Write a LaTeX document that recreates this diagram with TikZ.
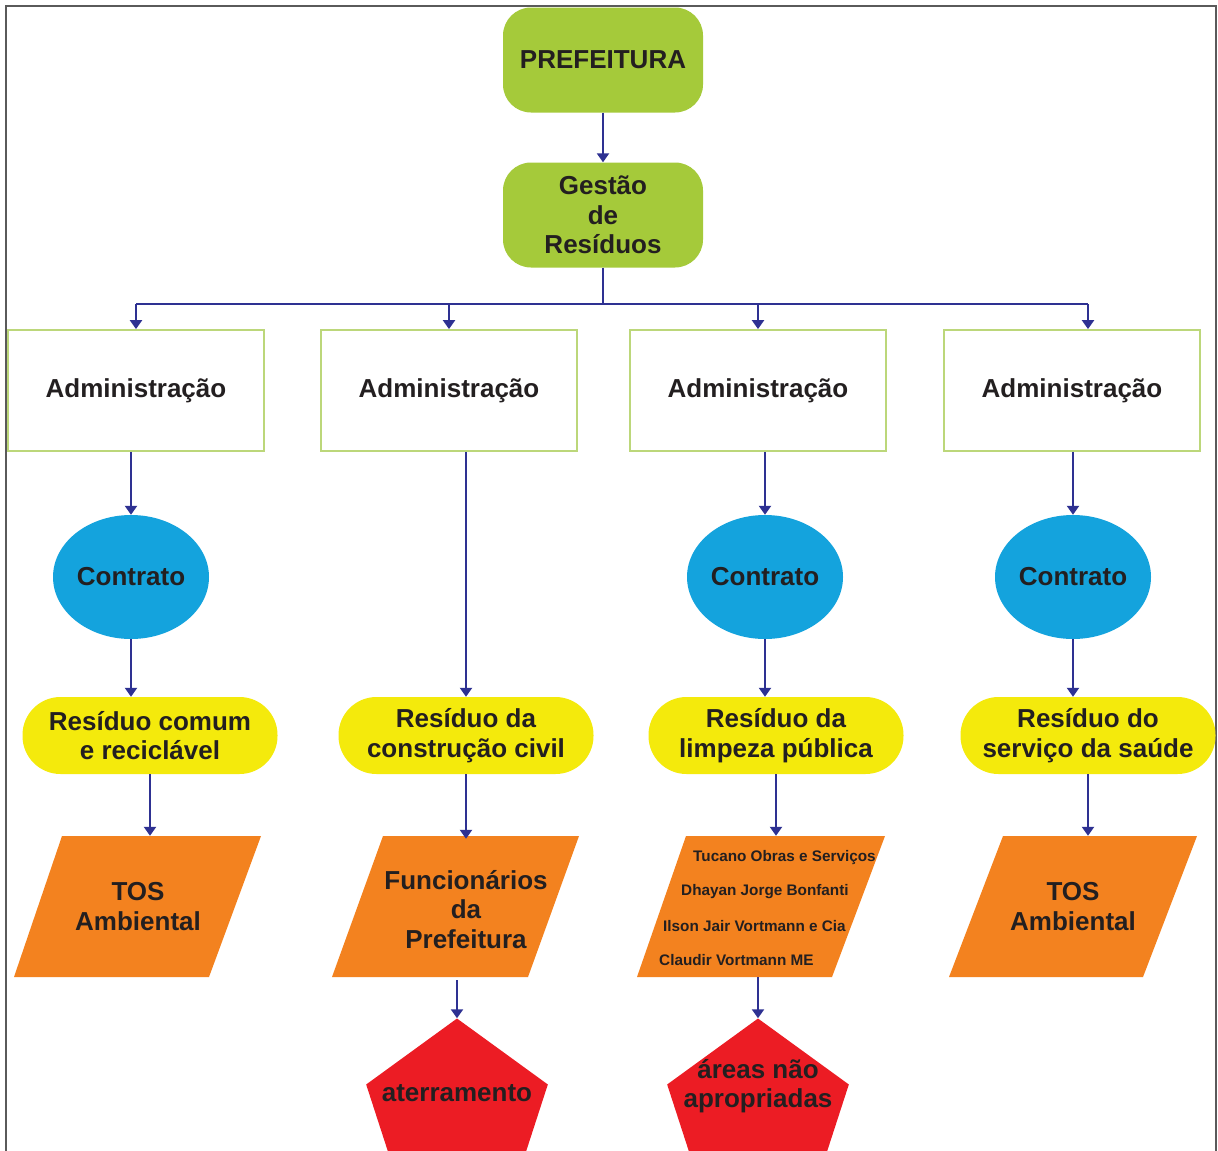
\documentclass[tikz,border=0pt]{standalone}
\usepackage{fontspec}
\setmainfont{Liberation Sans}
\usetikzlibrary{shapes.geometric,arrows.meta}
\definecolor{grn}{HTML}{A5CA3A}
\definecolor{admg}{HTML}{BCD77A}
\definecolor{blu}{HTML}{14A3DD}
\definecolor{yel}{HTML}{F4EA0C}
\definecolor{org}{HTML}{F3821F}
\definecolor{rd}{HTML}{EC1C24}
\definecolor{navy}{HTML}{2E3192}
\definecolor{txtc}{HTML}{231F20}
\definecolor{frm}{HTML}{5A5A5A}
\begin{document}
\begin{tikzpicture}[x=1pt,y=-1pt,
  txt/.style={font=\fontsize{26}{29.5}\selectfont\bfseries, text=txtc, align=center},
  small/.style={font=\fontsize{15.3}{17}\selectfont\bfseries, text=txtc, anchor=west, inner sep=0pt},
  gbox/.style={txt, rectangle, rounded corners=28pt, fill=grn, minimum width=200pt, minimum height=105pt, inner sep=0pt},
  admbox/.style={txt, rectangle, draw=admg, line width=1.8pt, fill=white, minimum width=256pt, minimum height=121pt, inner sep=0pt},
  ellbox/.style={txt, ellipse, fill=blu, minimum width=156pt, minimum height=124pt, inner sep=0pt},
  yelbox/.style={txt, rectangle, rounded corners=38pt, fill=yel, minimum width=255pt, minimum height=77pt, inner sep=0pt},
  parbox/.style={txt, rectangle, minimum width=200pt, minimum height=141pt, inner sep=0pt},
  pentbox/.style={regular polygon, regular polygon sides=5, minimum size=191pt, fill=rd, inner sep=0pt},
  arr/.style={draw=navy, line width=2.2pt, -{Triangle[width=12pt,length=9pt]}},
  ln/.style={draw=navy, line width=2.2pt}]
\useasboundingbox (0,0) rectangle (1218,1151);
\fill[white] (0,0) rectangle (1218,1151);
\clip (0,0) rectangle (1218,1151);
\draw[frm, line width=1.5pt] (6,1160) -- (6,6) -- (1216,6) -- (1216,1160);

% top
\node[gbox] (pref) at (603,60) {PREFEITURA};
\node[gbox] (ges) at (603,215) {Gestão\\de\\Resíduos};
\draw[arr] (pref) -- (ges);

% administration
\node[admbox] (adm1) at (136,390.5) {Administração};
\node[admbox] (adm2) at (449,390.5) {Administração};
\node[admbox] (adm3) at (758,390.5) {Administração};
\node[admbox] (adm4) at (1072,390.5) {Administração};

\coordinate (bus) at (603,304);
\coordinate (t1) at (136,304);
\coordinate (t2) at (449,304);
\coordinate (t3) at (758,304);
\coordinate (t4) at (1088,304);
\draw[ln] (ges.south) -- (bus);
\draw[ln] (t1) -- (t4);
\draw[arr] (t1) -- (t1 |- adm1.north);
\draw[arr] (t2) -- (t2 |- adm2.north);
\draw[arr] (t3) -- (t3 |- adm3.north);
\draw[arr] (t4) -- (t4 |- adm4.north);

% contracts
\node[ellbox] (ell1) at (131,577) {Contrato};
\node[ellbox] (ell3) at (765,577) {Contrato};
\node[ellbox] (ell4) at (1073,577) {Contrato};

% residues
\node[yelbox] (yel1) at (150,735.5) {Resíduo comum\\e reciclável};
\node[yelbox] (yel2) at (466,735.5) {Resíduo da\\construção civil};
\node[yelbox] (yel3) at (776,735.5) {Resíduo da\\limpeza pública};
\node[yelbox] (yel4) at (1088,735.5) {Resíduo do\\serviço da saúde};

\draw[arr] (ell1 |- adm1.south) -- (ell1.north);
\draw[arr] (yel2 |- adm2.south) -- (yel2.north);
\draw[arr] (ell3 |- adm3.south) -- (ell3.north);
\draw[arr] (ell4 |- adm4.south) -- (ell4.north);

\draw[arr] (ell1.south) -- (ell1.south |- yel1.north);
\draw[arr] (ell3.south) -- (ell3.south |- yel3.north);
\draw[arr] (ell4.south) -- (ell4.south |- yel4.north);

% parallelograms
\fill[org] (62,836) -- (261,836) -- (209,977) -- (14,977) -- cycle;
\fill[org] (383,836) -- (579,836) -- (528,977) -- (332,977) -- cycle;
\fill[org] (686,836) -- (885,836) -- (832,977) -- (637,977) -- cycle;
\fill[org] (1003,836) -- (1197,836) -- (1143,977) -- (949,977) -- cycle;

\node[parbox] (par1) at (138,906.5) {TOS\\Ambiental};
\node[parbox] (par2) at (466,909.5) {Funcionários\\da\\Prefeitura};
\node[parbox] (par3) at (761,906.5) {};
\node[parbox] (par4) at (1073,906.5) {TOS\\Ambiental};

\node[small] (c1) at (693,858) {Tucano Obras e Serviços};
\node[small] (c2) at (681,892) {Dhayan Jorge Bonfanti};
\node[small] (c3) at (663,926) {Ilson Jair Vortmann e Cia};
\node[small] (c4) at (659,960) {Claudir Vortmann ME};

\draw[arr] (yel1.south) -- (yel1.south |- par1.north);
\draw[arr] (yel2.south) -- (yel2.south |- par2.north);
\draw[arr] (yel3.south) -- (yel3.south |- par3.north);
\draw[arr] (yel4.south) -- (yel4.south |- par4.north);

% pentagons
\node[pentbox] (pen1) at (457,1114) {};
\node[pentbox] (pen2) at (758,1114) {};
\node[txt] (pt1) at (457,1093) {aterramento};
\node[txt] (pt2) at (758,1086) {áreas não\\apropriadas};

\draw[arr] (pen1 |- par2.south) -- (pen1.corner 1);
\draw[arr] (pen2 |- par3.south) -- (pen2.corner 1);
\end{tikzpicture}
\end{document}
